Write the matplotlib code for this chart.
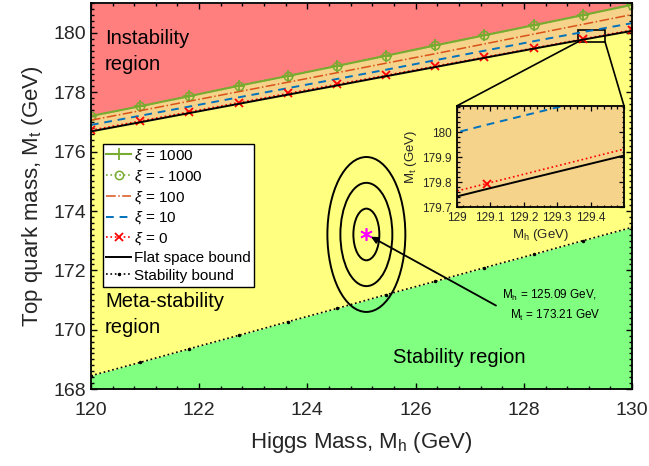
import matplotlib
matplotlib.use("Agg")
import matplotlib.pyplot as plt
from matplotlib.patches import Ellipse, Rectangle, ConnectionPatch
from matplotlib.ticker import MultipleLocator

plt.rcParams['font.family'] = ['Liberation Sans', 'DejaVu Sans']
plt.rcParams['mathtext.fontset'] = 'custom'
plt.rcParams['mathtext.rm'] = 'Liberation Sans'
plt.rcParams['mathtext.it'] = 'Liberation Sans:italic'
plt.rcParams['mathtext.default'] = 'regular'

# Higgs mass sample points (GeV)
mh = [120.0, 120.91, 121.82, 122.73, 123.64, 124.55, 125.45, 126.36, 127.27, 128.18, 129.09, 130.0]
# top mass bounds for each xi (GeV)
mt_xi1000 = [177.20, 177.53, 177.87, 178.22, 178.55, 178.89, 179.23, 179.58, 179.92, 180.26, 180.60, 180.95]
mt_xim1000 = [177.20, 177.53, 177.87, 178.22, 178.55, 178.89, 179.23, 179.58, 179.92, 180.26, 180.60, 180.95]
mt_xi100 = [177.06, 177.38, 177.70, 178.02, 178.34, 178.66, 178.98, 179.30, 179.63, 179.96, 180.29, 180.62]
mt_xi10 = [176.90, 177.21, 177.52, 177.83, 178.14, 178.45, 178.76, 179.08, 179.40, 179.72, 180.03, 180.33]
mt_xi0 = [176.72, 177.03, 177.34, 177.65, 177.96, 178.27, 178.57, 178.88, 179.18, 179.49, 179.795, 180.10]
mt_flat = [176.68, 176.99, 177.30, 177.61, 177.92, 178.23, 178.54, 178.85, 179.16, 179.47, 179.773, 180.07]
mt_stab = [168.45, 168.90, 169.36, 169.81, 170.27, 170.72, 171.18, 171.63, 172.09, 172.54, 173.00, 173.45]

# measured point and its uncertainties
mh0, mt0 = 125.09, 173.21
sig_mh, sig_mt = 0.24, 0.87
n_sigma = [1, 2, 3]

c_green = '#77AC30'
c_orange = '#D95319'
c_blue = '#0072BD'
c_text = '#262626'

fig = plt.figure(figsize=(6.49, 4.66), dpi=100)
ax = fig.add_axes([0.140, 0.165, 0.834, 0.828])

ax.fill_between(mh, mt_xi1000, 181, color='#FF7F7F', lw=0)
ax.fill_between(mh, mt_flat, mt_xi1000, color='#F6D38A', lw=0)
ax.fill_between(mh, mt_stab, mt_flat, color='#FFFF80', lw=0)
ax.fill_between(mh, 168, mt_stab, color='#80FF80', lw=0)

def draw_lines(a):
    a.plot(mh, mt_xi1000, '-', color=c_green, marker='+', ms=8, mew=1.3, lw=1.5, label=r'$\mathit{\xi}$ = 1000')
    a.plot(mh, mt_xim1000, ':', color=c_green, marker='o', mfc='none', ms=6, mew=1.1, lw=1.2, label=r'$\mathit{\xi}$ = - 1000')
    a.plot(mh, mt_xi100, '-.', color=c_orange, lw=1.1, label=r'$\mathit{\xi}$ = 100')
    a.plot(mh, mt_xi10, '--', color=c_blue, lw=1.4, dashes=(4, 3), label=r'$\mathit{\xi}$ = 10')
    a.plot(mh, mt_xi0, ':', color='red', marker='x', ms=6, mew=1.3, lw=1.2, label=r'$\mathit{\xi}$ = 0')
    a.plot(mh, mt_flat, '-', color='black', lw=1.4, label='Flat space bound')
    a.plot(mh, mt_stab, ':', color='black', marker='.', ms=3, lw=1.2, label='Stability bound')

draw_lines(ax)

for k in n_sigma:
    ax.add_patch(Ellipse((mh0, mt0), 2*k*sig_mh, 2*k*sig_mt, fill=False, ec='black', lw=1.4))
ax.plot([mh0], [mt0], marker=(6, 2, 0), color='magenta', ms=9, mew=1.2, ls='none')

ax.annotate('', xy=(mh0 + 0.04, mt0 - 0.03), xytext=(127.53, 170.77),
            arrowprops=dict(arrowstyle='-|>', color='black', lw=1.3, mutation_scale=10))
ax.text(127.6, 171.17, 'M$_h$ = 125.09 GeV,', fontsize=8.5, va='center')
ax.text(127.75, 170.49, 'M$_t$ = 173.21 GeV', fontsize=8.5, va='center')

ax.text(120.26, 179.38, 'Instability\nregion', fontsize=14.5, va='center', linespacing=1.45)
ax.text(120.26, 170.52, 'Meta-stability\nregion', fontsize=14.5, va='center', linespacing=1.45)
ax.text(125.58, 169.08, 'Stability region', fontsize=14.5, va='center')

ax.set_xlim(120, 130)
ax.set_ylim(168, 181)
ax.set_xticks([120, 122, 124, 126, 128, 130])
ax.set_yticks([168, 170, 172, 174, 176, 178, 180])
ax.xaxis.set_minor_locator(MultipleLocator(0.4))
ax.yaxis.set_minor_locator(MultipleLocator(0.2))
ax.tick_params(which='both', direction='in', top=True, right=True, labelsize=14, width=1.0,
               labelcolor=c_text)
ax.tick_params(axis='x', which='major', pad=9)
ax.tick_params(which='major', length=4)
ax.tick_params(which='minor', length=2)
for s in ax.spines.values():
    s.set_linewidth(1.3)
ax.set_xlabel('Higgs Mass, M$_h$ (GeV)', fontsize=16, labelpad=8, color=c_text)
ax.set_ylabel('Top quark mass, M$_t$ (GeV)', fontsize=16, labelpad=6, color=c_text)

leg = ax.legend(loc='upper left', bbox_to_anchor=(0.0216, 0.6365), borderaxespad=0,
                fontsize=11, handlelength=1.6, handletextpad=0.2, labelspacing=0.25,
                borderpad=0.25, fancybox=False, framealpha=1, edgecolor='black')
leg.get_frame().set_linewidth(1.0)

# zoom box
ax.add_patch(Rectangle((129.0, 179.7), 0.5, 0.4, fill=False, ec='black', lw=1.2))

axins = fig.add_axes([0.7037, 0.5552, 0.2578, 0.2174])
axins.set_facecolor('#F6D38A')
draw_lines(axins)
axins.set_xlim(129.0, 129.5)
axins.set_ylim(179.7, 180.105)
axins.set_xticks([129, 129.1, 129.2, 129.3, 129.4])
axins.set_xticklabels(['129', '129.1', '129.2', '129.3', '129.4'])
axins.set_yticks([179.7, 179.8, 179.9, 180])
axins.set_yticklabels(['179.7', '179.8', '179.9', '180'])
axins.xaxis.set_minor_locator(MultipleLocator(0.02))
axins.yaxis.set_minor_locator(MultipleLocator(0.02))
axins.tick_params(which='both', direction='in', top=True, right=True, labelsize=8.5, width=0.9,
                  labelcolor=c_text)
axins.tick_params(which='major', length=3.5)
axins.tick_params(which='minor', length=1.8)
for s in axins.spines.values():
    s.set_linewidth(1.3)
axins.set_xlabel('M$_h$ (GeV)', fontsize=9.5, labelpad=2, color=c_text)
axins.set_ylabel('M$_t$ (GeV)', fontsize=9.5, labelpad=2, color=c_text)

for xa, xb in [((129.0, 179.7), (0, 1)), ((129.5, 179.7), (1, 1))]:
    con = ConnectionPatch(xyA=xa, coordsA=ax.transData, xyB=xb, coordsB=axins.transAxes,
                          color='black', lw=1.2)
    fig.add_artist(con)

fig.savefig('out.png', dpi=100)
